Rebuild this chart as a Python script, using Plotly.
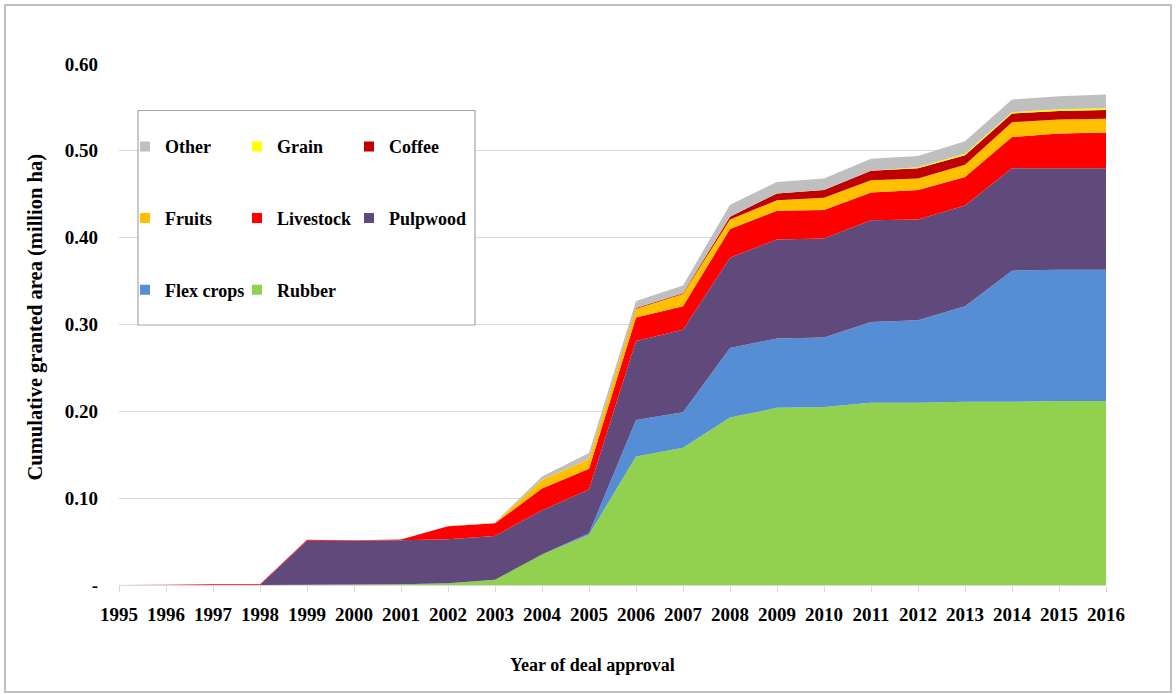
import plotly.graph_objects as go

YEARS = list(range(1995, 2017))

# individual (non-cumulative) granted area per crop, million ha
RUBBER = [0, 0, 0, 0, 0.0003, 0.0005, 0.0008, 0.002, 0.006, 0.035, 0.058, 0.148, 0.158, 0.193,
          0.204, 0.205, 0.210, 0.210, 0.211, 0.211, 0.212, 0.212]
FLEX = [0, 0, 0, 0, 0, 0, 0, 0, 0, 0, 0.0015, 0.042, 0.041, 0.080,
        0.080, 0.080, 0.093, 0.095, 0.110, 0.151, 0.151, 0.151]
PULPWOOD = [0, 0, 0, 0, 0.0507, 0.0505, 0.0507, 0.0506, 0.0505, 0.051, 0.0505, 0.091, 0.095, 0.104,
            0.114, 0.114, 0.117, 0.116, 0.116, 0.118, 0.117, 0.117]
LIVESTOCK = [0, 0.0003, 0.001, 0.001, 0.001, 0.0005, 0.001, 0.015, 0.0145, 0.025, 0.024, 0.027, 0.027, 0.033,
             0.033, 0.033, 0.032, 0.034, 0.033, 0.036, 0.040, 0.041]
FRUITS = [0, 0, 0, 0, 0, 0, 0, 0, 0.0005, 0.010, 0.011, 0.010, 0.014, 0.011,
          0.012, 0.014, 0.014, 0.013, 0.014, 0.017, 0.016, 0.016]
COFFEE = [0, 0, 0, 0, 0, 0, 0, 0, 0, 0, 0, 0.001, 0.001, 0.003,
          0.008, 0.009, 0.011, 0.012, 0.011, 0.010, 0.010, 0.010]
GRAIN = [0, 0, 0, 0, 0, 0, 0, 0, 0, 0, 0, 0, 0, 0,
         0, 0, 0, 0.001, 0.0015, 0.0015, 0.002, 0.002]
OTHER = [0, 0, 0, 0, 0, 0, 0, 0, 0.0005, 0.004, 0.007, 0.008, 0.009, 0.014,
         0.013, 0.013, 0.014, 0.013, 0.0145, 0.0145, 0.015, 0.016]

Y_TICKS = [0, 0.1, 0.2, 0.3, 0.4, 0.5, 0.6]
Y_TEXT = ['-', '0.10', '0.20', '0.30', '0.40', '0.50', '0.60']

# name, values, colour, legend row, legend entry width (bottom of stack first)
SERIES = [
    ('Rubber', RUBBER, '#92D050', 'legend3', 67),
    ('Flex crops', FLEX, '#558ED5', 'legend3', 67),
    ('Pulpwood', PULPWOOD, '#604A7B', 'legend2', 110),
    ('Livestock', LIVESTOCK, '#FF0000', 'legend2', 67),
    ('Fruits', FRUITS, '#FFC000', 'legend2', 67),
    ('Coffee', COFFEE, '#C00000', 'legend', 110),
    ('Grain', GRAIN, '#FFFF00', 'legend', 67),
    ('Other', OTHER, '#BFBFBF', 'legend', 67),
]

FONT = 'Liberation Serif'

fig = go.Figure()
for name, vals, col, _, _ in SERIES:
    fig.add_trace(go.Scatter(
        x=YEARS, y=vals, name=name, stackgroup='one', mode='none',
        fillcolor=col, showlegend=False,
        hovertemplate=name + ' %{x}: %{y:.3f}<extra></extra>',
    ))
# square legend swatches
for name, vals, col, leg, lw in SERIES:
    fig.add_trace(go.Scatter(
        x=[None], y=[None], name=name, mode='markers', legend=leg, legendwidth=lw,
        marker=dict(symbol='square', size=10, color=col),
    ))

W, H = 1176, 694
L, R, T, B = 119, 70, 64, 109
pw, ph = W - L - R, H - T - B


def px_x(p):
    return (p - L) / pw


def px_y(p):
    return (H - B - p) / ph


leg_common = dict(
    orientation='h', xanchor='left', yanchor='middle', x=px_x(125),
    traceorder='reversed', bgcolor='rgba(0,0,0,0)',
    font=dict(family=FONT, size=18, color='black', weight='bold'),
)

fig.update_layout(
    width=W, height=H,
    margin=dict(l=L, r=R, t=T, b=B),
    paper_bgcolor='white', plot_bgcolor='white',
    font=dict(family=FONT, color='black'),
    legend=dict(y=px_y(146.7), **leg_common),
    legend2=dict(y=px_y(218.3), **leg_common),
    legend3=dict(y=px_y(290), **leg_common),
    xaxis=dict(
        range=[1995, 2016], tickmode='array', tickvals=YEARS,
        showgrid=False, zeroline=False,
        showline=True, linecolor='#D9D9D9', linewidth=1,
        ticks='outside', tickcolor='#D9D9D9', ticklen=6, ticklabelstandoff=6,
        tickfont=dict(family=FONT, size=19, color='black', weight='bold'),
    ),
    yaxis=dict(
        range=[0, 0.6], tickmode='array', tickvals=Y_TICKS, ticktext=Y_TEXT,
        showgrid=True, gridcolor='#D9D9D9', gridwidth=1, zeroline=False,
        ticks='', ticklabelstandoff=20,
        tickfont=dict(family=FONT, size=19, color='black', weight='bold'),
    ),
    shapes=[
        dict(type='rect', xref='paper', yref='paper',
             x0=px_x(138), x1=px_x(475), y0=px_y(325), y1=px_y(110.5),
             line=dict(color='#A6A6A6', width=1.2), fillcolor='white', layer='above'),
        dict(type='rect', xref='paper', yref='paper',
             x0=px_x(5), x1=px_x(1171), y0=px_y(692), y1=px_y(5),
             line=dict(color='#BFBFBF', width=2), fillcolor='rgba(0,0,0,0)'),
    ],
    annotations=[
        dict(text='Cumulative granted area (million ha)', xref='paper', yref='paper',
             x=px_x(35), y=px_y(317.5), textangle=-90, showarrow=False,
             xanchor='center', yanchor='middle',
             font=dict(family=FONT, size=20.5, color='black', weight='bold')),
        dict(text='Year of deal approval', xref='paper', yref='paper',
             x=px_x(592), y=px_y(665), showarrow=False,
             xanchor='center', yanchor='middle',
             font=dict(family=FONT, size=18, color='black', weight='bold')),
    ],
)

fig.write_html('out.html', config={'displayModeBar': False},
               post_script="document.body.style.margin='0';")
